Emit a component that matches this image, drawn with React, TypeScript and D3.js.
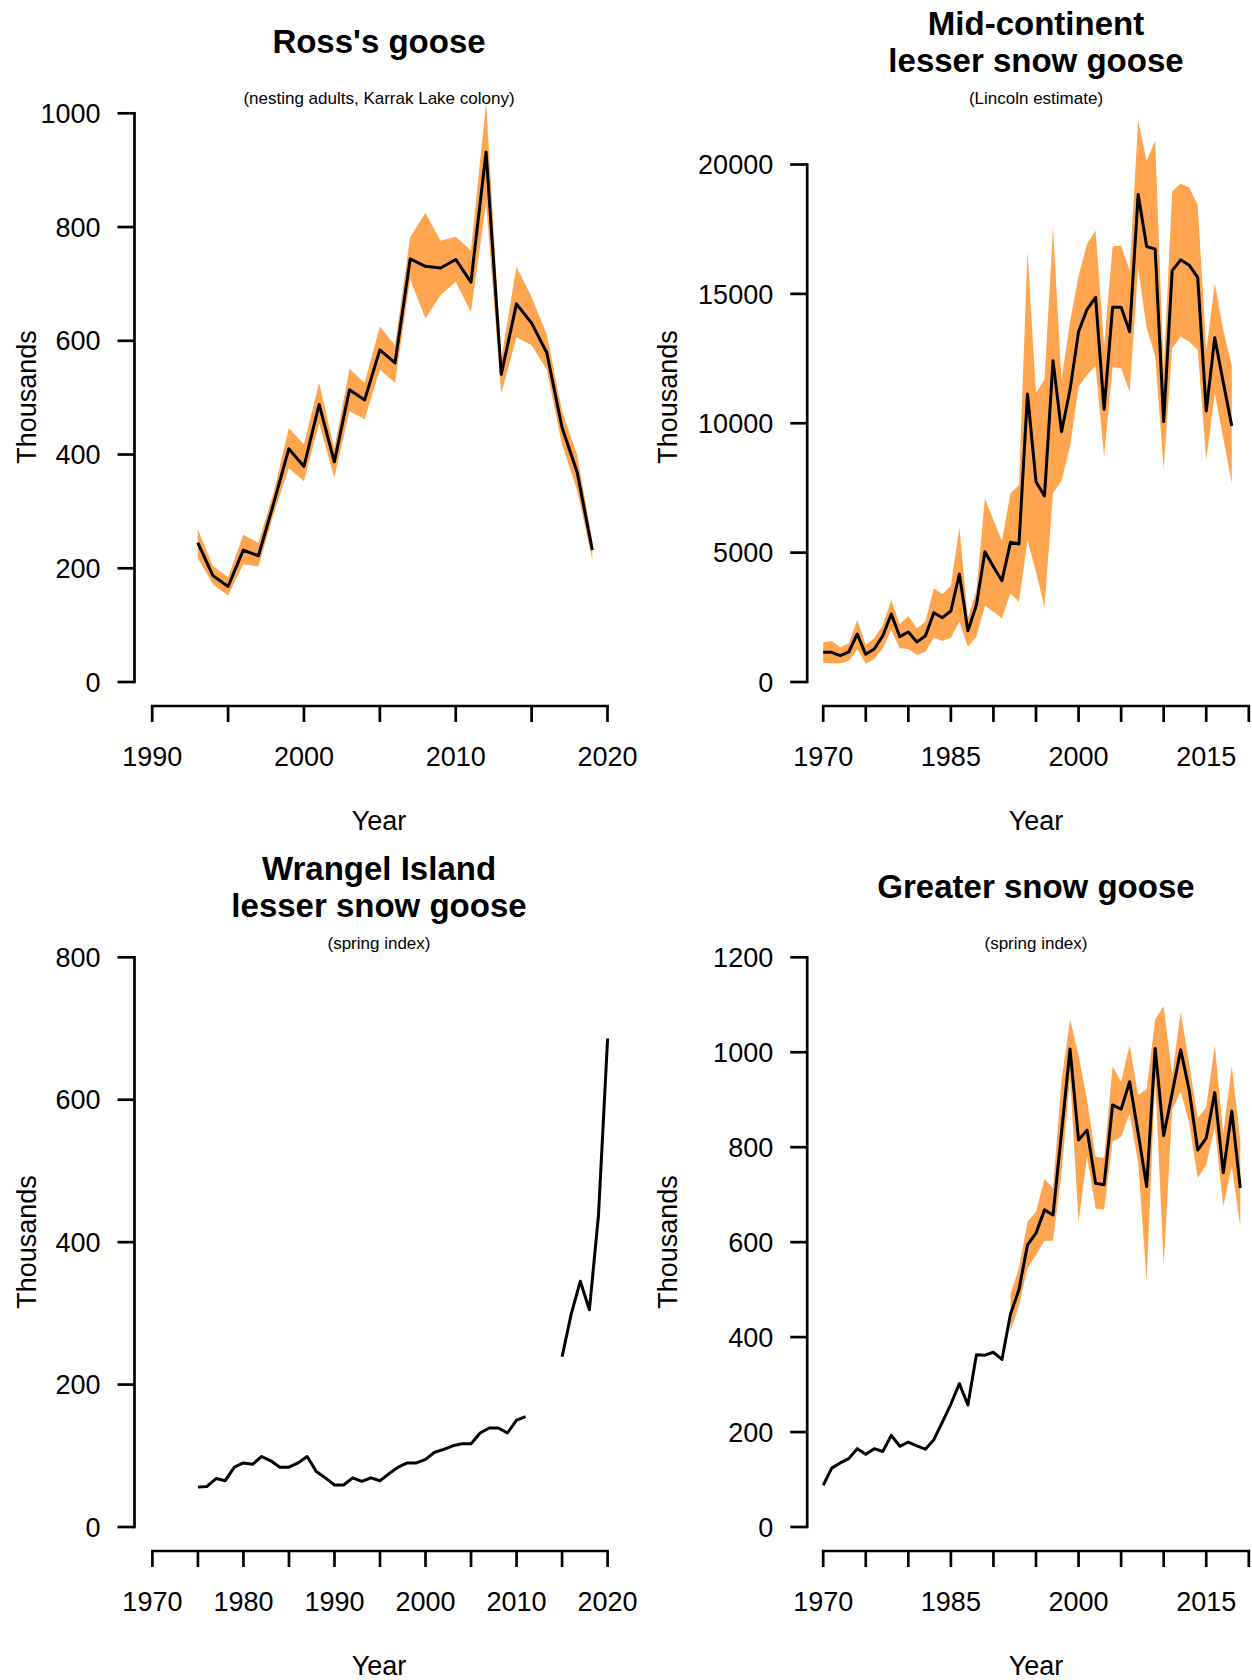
import React from "react";
import * as d3 from "d3";

// ---------- DATA ----------
const rossYears = [1993,1994,1995,1996,1997,1998,1999,2000,2001,2002,2003,2004,2005,2006,2007,2008,2009,2010,2011,2012,2013,2014,2015,2016,2017,2018,2019];
const rossEst = [245,187,168,232,222,314,410,379,488,387,514,496,584,561,744,731,728,743,703,932,541,665,631,579,448,369,232];
const rossLo = [218,172,152,207,203,295,376,353,455,359,476,462,549,526,708,639,680,704,650,842,507,606,592,549,418,337,215];
const rossHi = [269,204,184,259,245,333,446,418,526,410,551,526,625,592,782,825,776,783,759,1018,568,730,677,611,477,399,248];

const mcYears = [1970,1971,1972,1973,1974,1975,1976,1977,1978,1979,1980,1981,1982,1983,1984,1985,1986,1987,1988,1989,1990,1991,1992,1993,1994,1995,1996,1997,1998,1999,2000,2001,2002,2003,2004,2005,2006,2007,2008,2009,2010,2011,2012,2013,2014,2015,2016,2017,2018];
const mcEst = [1148,1148,1017,1160,1855,1070,1275,1790,2628,1752,1932,1546,1778,2679,2486,2744,4174,1984,2976,5037,4457,3916,5398,5333,11130,7742,7188,12418,9674,11300,13540,14403,14867,10539,14481,14481,13540,18841,16832,16729,10060,15901,16315,16108,15631,10473,13307,11580,9900];
const mcLo = [747,722,722,811,1262,709,889,1301,2010,1301,1275,1043,1172,1714,1585,1714,2332,1366,1752,2951,2718,2461,3427,3105,5488,4264,2900,7304,7768,9094,11413,11865,12213,8707,12162,12124,11220,16004,13685,12588,8240,12896,13345,13150,12831,8580,11157,9418,7679];
const mcHi = [1533,1585,1340,1495,2396,1430,1688,2203,3169,2241,2551,2074,2332,3620,3401,3710,5977,2461,3556,7098,6261,5462,7291,7614,16667,11157,11698,17557,11671,13934,15694,16936,17453,13000,16832,16874,15901,21698,20145,20932,12070,18965,19255,19110,18447,12795,15408,13604,12251];

const wrYears = [1975,1976,1977,1978,1979,1980,1981,1982,1983,1984,1985,1986,1987,1988,1989,1990,1991,1992,1993,1994,1995,1996,1997,1998,1999,2000,2001,2002,2003,2004,2005,2006,2007,2008,2009,2010,2011,2012,2013,2014,2015,2016,2017,2018,2019,2020];
const wrEst: (number | null)[] = [56,57,68,65,84,90,88,99,93,84,84,90,99,78,69,59,59,69,64,69,65,75,84,90,90,95,105,109,114,117,117,132,139,139,132,150,155,null,null,null,239,299,345,305,438,686];

const gsYears = [1970,1971,1972,1973,1974,1975,1976,1977,1978,1979,1980,1981,1982,1983,1984,1985,1986,1987,1988,1989,1990,1991,1992,1993,1994,1995,1996,1997,1998,1999,2000,2001,2002,2003,2004,2005,2006,2007,2008,2009,2010,2011,2012,2013,2014,2015,2016,2017,2018,2019];
const gsEst = [88,124,135,144,165,153,165,159,193,170,179,171,164,184,221,259,302,257,363,362,368,353,448,500,594,619,668,657,831,1007,815,836,724,721,889,880,938,830,717,1008,824,914,1005,920,794,819,915,746,876,714];
const gsBandYears = [1992,1993,1994,1995,1996,1997,1998,1999,2000,2001,2002,2003,2004,2005,2006,2007,2008,2009,2010,2011,2012,2013,2014,2015,2016,2017,2018,2019];
const gsLo = [412,466,545,573,603,603,745,948,643,780,671,668,812,822,871,767,517,949,550,879,917,851,735,763,843,675,759,633];
const gsHi = [491,545,643,664,733,714,940,1069,994,900,780,778,970,938,1015,910,922,1069,1097,952,1085,975,861,884,1015,829,971,815];

const rossXTicks = [1990,1995,2000,2005,2010,2015,2020];
const rossXLabels = [1990,2000,2010,2020];
const longXTicks = [1970,1975,1980,1985,1990,1995,2000,2005,2010,2015,2020];
const mcXLabels = [1970,1985,2000,2015];
const wrXLabels = [1970,1980,1990,2000,2010,2020];
const rossYTicks = [0,200,400,600,800,1000];
const mcYTicks = [0,5000,10000,15000,20000];
const wrYTicks = [0,200,400,600,800];
const gsYTicks = [0,200,400,600,800,1000,1200];

// ---------- STYLE / LAYOUT ----------
const FONT = "'Liberation Sans', Arial, Helvetica, sans-serif";
const BAND = "#FFA54F";

type Band = { years: number[]; lo: number[]; hi: number[] } | null;
type PanelCfg = {
  dx: number; dy: number;
  title: string[]; subtitle: string;
  xDomain: [number, number]; xRange: [number, number];
  yMax: number; yTopPx: number; axisX: number;
  xTicks: number[]; xLabels: number[]; yTicks: number[];
  years: number[]; est: (number | null)[]; band: Band;
  cx: number; ylabX: number;
};

const panels: PanelCfg[] = [
  {
    dx: 0, dy: 0, title: ["Ross's goose"], subtitle: "(nesting adults, Karrak Lake colony)",
    xDomain: [1990, 2020], xRange: [152.2, 607.5], yMax: 1000, yTopPx: 113.3, axisX: 134.5,
    xTicks: rossXTicks, xLabels: rossXLabels, yTicks: rossYTicks,
    years: rossYears, est: rossEst, band: { years: rossYears, lo: rossLo, hi: rossHi },
    cx: 379, ylabX: 36,
  },
  {
    dx: 626, dy: 0, title: ["Mid-continent", "lesser snow goose"], subtitle: "(Lincoln estimate)",
    xDomain: [1970, 2020], xRange: [197.2, 622.8], yMax: 20000, yTopPx: 164.5, axisX: 181.2,
    xTicks: longXTicks, xLabels: mcXLabels, yTicks: mcYTicks,
    years: mcYears, est: mcEst, band: { years: mcYears, lo: mcLo, hi: mcHi },
    cx: 410, ylabX: 50.5,
  },
  {
    dx: 0, dy: 845, title: ["Wrangel Island", "lesser snow goose"], subtitle: "(spring index)",
    xDomain: [1970, 2020], xRange: [152.4, 607.6], yMax: 800, yTopPx: 112.3, axisX: 134.5,
    xTicks: longXTicks, xLabels: wrXLabels, yTicks: wrYTicks,
    years: wrYears, est: wrEst, band: null,
    cx: 379, ylabX: 36,
  },
  {
    dx: 626, dy: 845, title: ["Greater snow goose"], subtitle: "(spring index)",
    xDomain: [1970, 2020], xRange: [197.2, 622.8], yMax: 1200, yTopPx: 112.3, axisX: 181.2,
    xTicks: longXTicks, xLabels: mcXLabels, yTicks: gsYTicks,
    years: gsYears, est: gsEst, band: { years: gsBandYears, lo: gsLo, hi: gsHi },
    cx: 410, ylabX: 50.5,
  },
];

const Y0 = 682;       // pixel of value 0
const XAXIS_Y = 706;  // x-axis line
const TICK_FS = 27;

function Panel({ c }: { c: PanelCfg }) {
  const x = d3.scaleLinear().domain(c.xDomain).range(c.xRange);
  const y = d3.scaleLinear().domain([0, c.yMax]).range([Y0, c.yTopPx]);

  const line = d3.line<[number, number | null]>()
    .defined((d) => d[1] != null)
    .x((d) => x(d[0]))
    .y((d) => y(d[1] as number));
  const linePts: [number, number | null][] = c.years.map((yr, i) => [yr, c.est[i]]);

  let bandPath: string | null = null;
  if (c.band) {
    const b = c.band;
    const area = d3.area<number>()
      .x((i) => x(b.years[i]))
      .y0((i) => y(b.lo[i]))
      .y1((i) => y(b.hi[i]));
    bandPath = area(b.years.map((_, i) => i));
  }

  const xFirst = c.xTicks[0];
  const xLast = c.xTicks[c.xTicks.length - 1];
  const yLast = c.yTicks[c.yTicks.length - 1];

  const titleBaselines = c.title.length === 1 ? [53.3] : [35, 71.5];

  return (
    <g transform={`translate(${c.dx},${c.dy})`} fontFamily={FONT}>
      {c.title.map((t, i) => (
        <text key={t} x={c.cx} y={titleBaselines[i]} textAnchor="middle" fontWeight="bold" fontSize={33} fill="#000">{t}</text>
      ))}
      <text x={c.cx} y={103.5} textAnchor="middle" fontSize={17} fill="#000">{c.subtitle}</text>

      {bandPath && <path d={bandPath} fill={BAND} stroke="none" />}
      <path d={line(linePts) || ""} fill="none" stroke="#000" strokeWidth={3} strokeLinejoin="round" strokeLinecap="butt" />

      {/* y axis */}
      <line x1={c.axisX} x2={c.axisX} y1={y(0)} y2={y(yLast)} stroke="#000" strokeWidth={2.7} strokeLinecap="square" />
      {c.yTicks.map((t) => (
        <g key={t}>
          <line x1={c.axisX - 17} x2={c.axisX} y1={y(t)} y2={y(t)} stroke="#000" strokeWidth={2.7} />
          <text x={c.axisX - 34} y={y(t) + 9.7} textAnchor="end" fontSize={TICK_FS} fill="#000">{t}</text>
        </g>
      ))}

      {/* x axis */}
      <line x1={x(xFirst)} x2={x(xLast)} y1={XAXIS_Y} y2={XAXIS_Y} stroke="#000" strokeWidth={2.7} strokeLinecap="square" />
      {c.xTicks.map((t) => (
        <line key={t} x1={x(t)} x2={x(t)} y1={XAXIS_Y} y2={XAXIS_Y + 16} stroke="#000" strokeWidth={2.7} />
      ))}
      {c.xLabels.map((t) => (
        <text key={t} x={x(t)} y={765.7} textAnchor="middle" fontSize={TICK_FS} fill="#000">{t}</text>
      ))}

      <text x={c.cx} y={829.5} textAnchor="middle" fontSize={TICK_FS} fill="#000">Year</text>
      <text transform={`translate(${c.ylabX},397) rotate(-90)`} textAnchor="middle" fontSize={TICK_FS} fill="#000">Thousands</text>
    </g>
  );
}

export default function App() {
  return (
    <div style={{ position: "absolute", left: 0, top: 0 }}>
      <svg width={1252} height={1680} style={{ display: "block", background: "#fff" }}>
        <rect x={0} y={0} width={1252} height={1680} fill="#fff" />
        {panels.map((c, i) => <Panel key={i} c={c} />)}
      </svg>
    </div>
  );
}
